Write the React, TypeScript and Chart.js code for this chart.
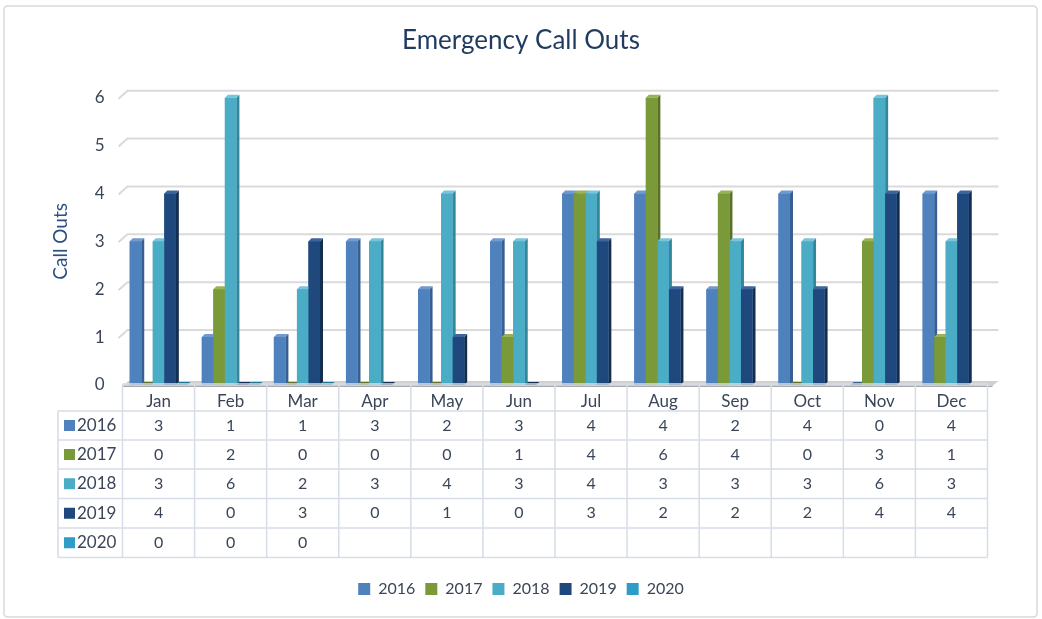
import React, { useEffect, useRef } from 'react';
import { Chart, registerables } from 'chart.js';

Chart.register(...registerables);

// ---------------- data ----------------
const months = ['Jan', 'Feb', 'Mar', 'Apr', 'May', 'Jun', 'Jul', 'Aug', 'Sep', 'Oct', 'Nov', 'Dec'];
const years = ['2016', '2017', '2018', '2019', '2020'];
const calls2016 = [3, 1, 1, 3, 2, 3, 4, 4, 2, 4, 0, 4];
const calls2017 = [0, 2, 0, 0, 0, 1, 4, 6, 4, 0, 3, 1];
const calls2018 = [3, 6, 2, 3, 4, 3, 4, 3, 3, 3, 6, 3];
const calls2019 = [4, 0, 3, 0, 1, 0, 3, 2, 2, 2, 4, 4];
const calls2020 = [0, 0, 0];
const yTicks = [0, 1, 2, 3, 4, 5, 6];
const chartTitle = 'Emergency Call Outs';
const yAxisTitle = 'Call Outs';

// ---------------- styles ----------------
const FONT = "Lato, 'Open Sans', sans-serif";
const frontColors = ['#4F81BD', '#7A9A3A', '#4BACC6', '#1F497D', '#2E9CC6'];
const sideColors = ['#385F91', '#58702A', '#33869C', '#132E50', '#1E7598'];
const topColors = ['#7099CF', '#98B356', '#78C4D8', '#3C64A0', '#5DB9DB'];
const textColor = '#3A4658';
const titleColor = '#1F3B5F';
const tableLine = '#D6DDE8';

const DEPTH = 3;

const backgroundPlugin = {
  id: 'bgBorder',
  beforeDraw(chart: any) {
    const ctx = chart.ctx;
    ctx.save();
    ctx.fillStyle = '#FFFFFF';
    ctx.fillRect(0, 0, chart.width, chart.height);
    ctx.strokeStyle = '#D9D9D9';
    ctx.lineWidth = 1.5;
    const x = 4, y = 6, w = 1033, h = 611, r = 4;
    ctx.beginPath();
    ctx.moveTo(x + r, y);
    ctx.lineTo(x + w - r, y);
    ctx.quadraticCurveTo(x + w, y, x + w, y + r);
    ctx.lineTo(x + w, y + h - r);
    ctx.quadraticCurveTo(x + w, y + h, x + w - r, y + h);
    ctx.lineTo(x + r, y + h);
    ctx.quadraticCurveTo(x, y + h, x, y + h - r);
    ctx.lineTo(x, y + r);
    ctx.quadraticCurveTo(x, y, x + r, y);
    ctx.stroke();
    ctx.restore();
  },
};

const gridPlugin = {
  id: 'grid3d',
  beforeDatasetsDraw(chart: any) {
    const ctx = chart.ctx;
    const ys = chart.scales.y;
    const { left, right } = chart.chartArea;
    ctx.save();
    yTicks.forEach((v) => {
      const y = ys.getPixelForValue(v);
      if (v === 0) {
        // floor
        ctx.fillStyle = '#D0D0D0';
        ctx.beginPath();
        ctx.moveTo(left, y + 1);
        ctx.lineTo(left + 6, y - 4);
        ctx.lineTo(right + 11, y - 4);
        ctx.lineTo(right + 5, y + 1);
        ctx.closePath();
        ctx.fill();
        ctx.strokeStyle = '#A8A8A8';
        ctx.lineWidth = 1;
        ctx.beginPath();
        ctx.moveTo(left, y + 1.5);
        ctx.lineTo(right + 5, y + 1.5);
        ctx.stroke();
        return;
      }
      ctx.strokeStyle = '#DADADA';
      ctx.lineWidth = 2;
      ctx.beginPath();
      ctx.moveTo(left - 4, y + 1);
      ctx.lineTo(left + 5, y - 7);
      ctx.lineTo(right + 11, y - 7);
      ctx.stroke();
    });
    ctx.restore();
  },
};

const bars3dPlugin = {
  id: 'bars3d',
  afterDatasetsDraw(chart: any) {
    const ctx = chart.ctx;
    ctx.save();
    chart.data.datasets.forEach((ds: any, i: number) => {
      const meta = chart.getDatasetMeta(i);
      meta.data.forEach((el: any) => {
        const p = el.getProps(['x', 'y', 'base', 'width'], true);
        const l = p.x - p.width / 2;
        const r = p.x + p.width / 2;
        const t = Math.min(p.y, p.base);
        const b = Math.max(p.y, p.base);
        const d = DEPTH;
        // side face
        ctx.fillStyle = sideColors[i];
        ctx.beginPath();
        ctx.moveTo(r, b);
        ctx.lineTo(r + d, b - d);
        ctx.lineTo(r + d, t - d);
        ctx.lineTo(r, t);
        ctx.closePath();
        ctx.fill();
        // top face
        ctx.fillStyle = b - t < 0.5 ? sideColors[i] : topColors[i];
        ctx.beginPath();
        ctx.moveTo(l, t);
        ctx.lineTo(l + d, t - d);
        ctx.lineTo(r + d, t - d);
        ctx.lineTo(r, t);
        ctx.closePath();
        ctx.fill();
        // front face
        ctx.fillStyle = frontColors[i];
        ctx.fillRect(l, t, p.width, b - t);
      });
    });
    ctx.restore();
  },
};

const ROW_EDGES = [411, 440, 469, 498.5, 528, 557.5];
const HEADER_TOP = 384;
const ROW_LABEL_LEFT = 58;

const tablePlugin = {
  id: 'dataTable',
  afterDraw(chart: any) {
    const ctx = chart.ctx;
    const xs = chart.scales.x;
    const { left, right } = chart.chartArea;
    const half = (xs.getPixelForValue(1) - xs.getPixelForValue(0)) / 2;
    ctx.save();
    ctx.strokeStyle = tableLine;
    ctx.lineWidth = 1.5;
    // horizontal lines
    ctx.beginPath();
    ctx.moveTo(left, HEADER_TOP);
    ctx.lineTo(right, HEADER_TOP);
    ROW_EDGES.forEach((y) => {
      ctx.moveTo(ROW_LABEL_LEFT, y);
      ctx.lineTo(right, y);
    });
    // vertical lines
    ctx.moveTo(ROW_LABEL_LEFT, ROW_EDGES[0]);
    ctx.lineTo(ROW_LABEL_LEFT, ROW_EDGES[ROW_EDGES.length - 1]);
    months.forEach((_, j) => {
      const x = xs.getPixelForValue(j) - half;
      ctx.moveTo(x, HEADER_TOP);
      ctx.lineTo(x, ROW_EDGES[ROW_EDGES.length - 1]);
    });
    ctx.moveTo(right, HEADER_TOP);
    ctx.lineTo(right, ROW_EDGES[ROW_EDGES.length - 1]);
    ctx.stroke();

    ctx.textBaseline = 'middle';
    chart.data.datasets.forEach((ds: any, i: number) => {
      const cy = (ROW_EDGES[i] + ROW_EDGES[i + 1]) / 2;
      // row header
      ctx.fillStyle = frontColors[i];
      ctx.fillRect(64, cy - 5.5, 11, 11);
      ctx.fillStyle = textColor;
      ctx.textAlign = 'left';
      ctx.font = `17px ${FONT}`;
      ctx.fillText(ds.label, 77, cy);
      ctx.font = `16px ${FONT}`;
      ctx.textAlign = 'center';
      ds.data.forEach((v: number, j: number) => {
        if (v === undefined || v === null) return;
        ctx.fillText(String(v), xs.getPixelForValue(j), cy);
      });
    });
    ctx.restore();
  },
};

export default function App() {
  const canvasRef = useRef<HTMLCanvasElement | null>(null);

  useEffect(() => {
    document.body.style.margin = '0';
    const canvas = canvasRef.current;
    if (!canvas) return;
    const series = [calls2016, calls2017, calls2018, calls2019, calls2020];
    const chart = new Chart(canvas, {
      type: 'bar',
      data: {
        labels: months,
        datasets: years.map((yr, i) => ({
          label: yr,
          data: series[i],
          backgroundColor: frontColors[i],
          borderWidth: 0,
          barPercentage: 1,
          categoryPercentage: 0.8,
        })),
      },
      options: {
        responsive: false,
        animation: false,
        layout: { padding: { left: 54.5, right: 54.5, top: 0, bottom: 12 } },
        plugins: {
          title: {
            display: true,
            text: chartTitle,
            color: titleColor,
            font: { family: FONT, size: 26, weight: 'normal' },
            padding: { top: 25, bottom: 41.5 },
          },
          legend: {
            position: 'bottom',
            labels: {
              boxWidth: 12,
              boxHeight: 12,
              padding: 10,
              color: textColor,
              font: { family: FONT, size: 16 },
            },
          },
          tooltip: { enabled: false },
        },
        scales: {
          x: {
            grid: { display: false, drawTicks: false },
            border: { display: false },
            ticks: { color: textColor, font: { family: FONT, size: 17 }, padding: 6 },
            afterFit: (s: any) => {
              s.height = 186;
            },
          },
          y: {
            min: 0,
            max: 6,
            grid: { display: false, drawTicks: false },
            border: { display: false },
            ticks: { stepSize: 1, color: textColor, font: { family: FONT, size: 17 }, padding: 18 },
            title: {
              display: true,
              text: yAxisTitle,
              color: '#2B4F7E',
              font: { family: FONT, size: 19 },
              padding: { top: -5, bottom: 0 },
            },
            afterFit: (s: any) => {
              s.width = 68;
            },
          },
        },
      },
      plugins: [backgroundPlugin, gridPlugin, bars3dPlugin, tablePlugin],
    });
    return () => chart.destroy();
  }, []);

  return (
    <div style={{ width: 1042, height: 619 }}>
      <canvas ref={canvasRef} width={1042} height={619} />
    </div>
  );
}
